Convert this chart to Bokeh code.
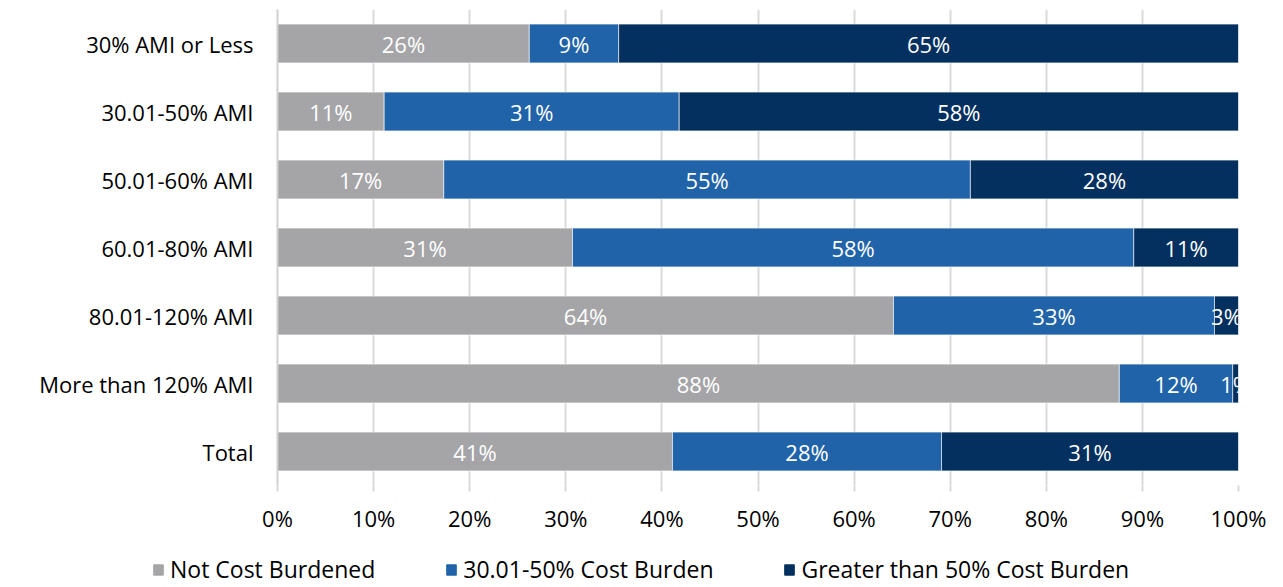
from bokeh.plotting import figure
from bokeh.layouts import column
from bokeh.models import ColumnDataSource, Legend, LegendItem, FactorRange, FixedTicker, CustomJSTickFormatter
from bokeh.embed import file_html
from bokeh.resources import INLINE
from bokeh.core.properties import value

categories = ["30% AMI or Less", "30.01-50% AMI", "50.01-60% AMI", "60.01-80% AMI",
              "80.01-120% AMI", "More than 120% AMI", "Total"]
not_burdened = [26.2, 11.1, 17.3, 30.7, 64.1, 87.6, 41.1]
burden_30_50 = [9.3, 30.7, 54.8, 58.4, 33.4, 11.8, 28.0]
burden_50 = [64.5, 58.2, 27.9, 10.9, 2.5, 0.6, 30.9]
series_names = ["Not Cost Burdened", "30.01-50% Cost Burden", "Greater than 50% Cost Burden"]
colors = ["#A5A5A8", "#2163A9", "#03305F"]
x_ticks = [0, 10, 20, 30, 40, 50, 60, 70, 80, 90, 100]

FONT = "Open Sans"
FS = "22px"

src = ColumnDataSource(dict(cat=categories, a=not_burdened, b=burden_30_50, c=burden_50))

p = figure(width=1283, height=545, output_backend="svg", toolbar_location=None,
           y_range=FactorRange(*reversed(categories)), x_range=(0, 100),
           min_border_left=277, min_border_right=45, min_border_top=9, min_border_bottom=60)
p.outline_line_color = None
p.frame_align = False

renderers = p.hbar_stack(["a", "b", "c"], y="cat", height=0.57, color=colors,
                         line_color="white", line_width=0.6, source=src)

# segment labels
seg_series = [not_burdened, burden_30_50, burden_50]
lx, ly, lt = [], [], []
for i, cat in enumerate(categories):
    start = 0.0
    for s in seg_series:
        v = s[i]
        lx.append(start + v / 2)
        ly.append(cat)
        lt.append(f"{round(v + 1e-9):.0f}%")
        start += v
lsrc = ColumnDataSource(dict(x=lx, y=ly, t=lt))
p.text(x="x", y="y", text="t", source=lsrc, text_color="white", text_align="center",
       text_baseline="middle", text_font=value(FONT), text_font_size=FS)

# axes
p.xaxis.ticker = FixedTicker(ticks=x_ticks)
p.xaxis.formatter = CustomJSTickFormatter(code="return tick + '%';")
p.xaxis.axis_line_color = None
p.xaxis.major_tick_line_color = "#D9D9D9"
p.xaxis.major_tick_line_width = 2
p.xaxis.major_tick_out = 6
p.xaxis.major_tick_in = 0
p.xaxis.minor_tick_line_color = None
p.xaxis.major_label_text_font = FONT
p.xaxis.major_label_text_font_size = FS
p.xaxis.major_label_text_color = "#000000"
p.xaxis.major_label_standoff = 11

p.yaxis.axis_line_color = "#D0D0D0"
p.yaxis.axis_line_width = 2
p.yaxis.major_tick_line_color = None
p.yaxis.minor_tick_line_color = None
p.yaxis.major_label_text_font = FONT
p.yaxis.major_label_text_font_size = FS
p.yaxis.major_label_text_color = "#000000"
p.yaxis.major_label_standoff = 18

p.xgrid.grid_line_color = "#D9D9D9"
p.xgrid.grid_line_width = 2
p.ygrid.grid_line_color = None

# legend strip (own figure so the legend can sit below the axis labels)
lg = figure(width=1283, height=42, output_backend="svg", toolbar_location=None,
            x_range=(0, 1), y_range=(0, 1), min_border=0,
            x_axis_location=None, y_axis_location=None)
lg.outline_line_color = None
lg.grid.grid_line_color = None
lg.frame_align = False
# legend-only swatches: one hidden point each, outside the visible range
hidden = ColumnDataSource(dict(x=[-1.0], y=[-1.0]))
dummies = [lg.rect(x="x", y="y", width=0.01, height=0.01, color=c, source=hidden) for c in colors]

legend = Legend(items=[LegendItem(label=n, renderers=[r]) for n, r in zip(series_names, dummies)],
                orientation="horizontal", location=(152, 2),
                label_text_font=FONT, label_text_font_size="23px", label_text_color="#000000",
                glyph_width=12, glyph_height=13, spacing=70, label_standoff=6,
                border_line_color=None, background_fill_alpha=0, padding=0, margin=0)
lg.add_layout(legend, "center")

layout = column(p, lg, spacing=0)
open("out.html", "w").write(file_html(layout, INLINE))
